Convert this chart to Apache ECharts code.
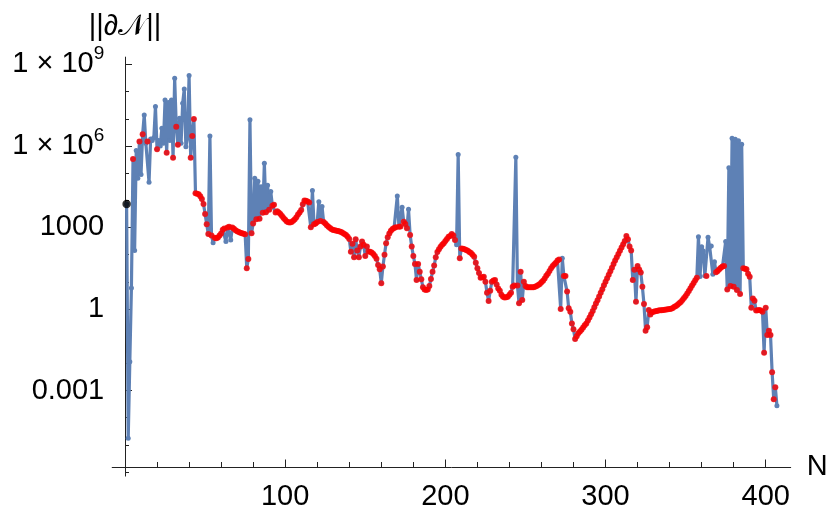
<!DOCTYPE html>
<html>
<head>
<meta charset="utf-8">
<title>norm vs N</title>
<script src="https://cdn.jsdelivr.net/npm/echarts@6.0.0/dist/echarts.min.js"></script>
<style>
  html,body{margin:0;padding:0;background:#fff;}
  #chart{width:830px;height:519px;}
</style>
</head>
<body>
<div id="chart"></div>
<script>
  // log10 ||dN|| for N = 1, 2, 3 ... 407
  var logNorm = [
    3.86,-4.76,-1.94,0.77,5.52,2.15,5.83,4.81,6.16,4.95,
    6.43,7.14,6.10,6.16,4.66,6.26,6.20,6.30,7.45,5.88,
    6.20,6.00,6.65,6.10,7.69,5.75,7.60,6.20,7.69,5.57,
    8.49,6.71,6.04,7.02,6.10,7.57,8.10,5.97,6.30,8.59,
    5.57,6.37,6.99,4.26,4.24,4.22,4.15,4.05,3.86,3.50,
    3.12,2.76,6.37,2.70,2.44,2.62,2.60,2.63,2.70,2.78,
    2.92,2.96,2.48,3.00,3.03,2.54,3.00,2.95,2.90,2.86,
    2.83,2.81,2.79,2.77,2.75,1.50,1.84,6.96,2.79,3.15,
    4.81,3.30,4.70,3.32,4.50,3.54,5.36,3.56,4.55,3.65,
    4.32,3.80,3.84,3.55,3.60,3.55,3.50,3.42,3.35,3.28,
    3.22,3.19,3.18,3.20,3.25,3.30,3.38,3.48,3.55,3.64,
    3.85,3.99,3.98,3.96,3.92,3.01,4.36,3.12,3.15,3.20,
    3.95,3.24,3.77,3.20,3.15,3.08,3.03,2.98,2.93,2.91,
    2.90,2.88,2.87,2.85,2.83,2.80,2.76,2.72,2.66,2.58,
    2.11,2.40,1.90,2.57,2.15,1.90,2.30,2.48,2.36,1.95,
    2.30,2.12,2.11,2.08,2.02,1.95,1.85,1.62,1.46,0.95,
    1.56,2.00,2.42,2.64,2.78,2.88,2.94,2.98,3.01,4.16,
    3.03,3.04,3.74,3.21,3.13,2.97,3.67,2.72,2.30,1.95,
    1.66,1.07,1.66,1.37,1.09,0.80,0.72,0.70,0.72,0.85,
    1.10,1.37,1.60,1.90,2.10,2.20,2.29,2.36,2.42,2.50,
    2.58,2.66,2.69,2.76,2.70,2.54,2.36,5.69,1.87,2.23,
    2.22,2.20,2.17,2.14,2.10,2.06,2.00,1.92,1.70,1.50,
    1.32,1.15,1.17,1.19,1.00,0.60,0.29,0.67,1.00,1.05,
    1.07,0.90,0.75,0.67,0.52,0.45,0.42,0.43,0.45,0.52,
    0.60,0.82,0.86,5.58,0.86,0.21,1.37,0.33,1.00,0.85,
    0.80,0.80,0.80,0.80,0.80,0.82,0.85,0.88,0.92,0.98,
    1.04,1.12,1.22,1.30,1.40,1.50,1.58,1.65,1.70,1.78,
    1.82,0.00,1.87,1.21,1.21,0.64,0.03,-0.10,-0.53,-0.75,
    -1.10,-1.00,-0.89,-0.83,-0.76,-0.68,-0.60,-0.53,-0.42,-0.31,
    -0.19,-0.07,0.06,0.20,0.32,0.46,0.60,0.73,0.87,1.00,
    1.13,1.26,1.39,1.52,1.66,1.78,1.90,2.02,2.14,2.26,
    2.38,2.50,2.69,2.57,2.30,2.15,1.07,1.44,0.27,1.58,
    1.45,1.34,0.82,0.18,-0.80,-0.67,-0.04,-0.20,-0.12,-0.10,
    -0.08,-0.07,-0.06,-0.05,-0.05,-0.04,-0.03,-0.02,-0.01,0.00,
    0.01,0.04,0.08,0.11,0.16,0.21,0.26,0.33,0.40,0.48,
    0.57,0.66,0.76,0.86,0.96,1.06,1.15,2.66,1.20,2.29,
    2.13,1.22,1.21,2.64,2.29,2.32,1.28,1.74,1.35,1.40,
    1.46,1.52,1.56,1.58,2.48,0.72,5.20,0.85,6.28,0.82,
    6.25,0.70,6.19,0.55,6.06,1.50,1.48,1.46,1.30,1.19,
    0.05,0.39,0.30,-0.06,-0.05,-0.04,-0.06,-0.10,-1.61,0.05,
    -0.96,-0.80,-0.96,-2.33,-3.32,-2.88,-3.56
  ];
  // N that only carry the plain blue marker (the spikes)
  var blueOnlyN = [2,3,4,6,7,8,10,12,13,15,16,17,18,19,21,22,23,24,25,27,28,29,31,
    34,35,36,37,38,39,40,53,55,63,66,78,81,83,85,87,89,91,117,121,123,170,173,177,
    207,208,244,273,358,359,360,361,362,364,365,366,367,368,375,377,379,381,383,385,407];
  var blackN = [1];

  var xMinorTicks = [0,20,40,60,80,100,120,140,160,180,200,220,240,260,280,300,320,340,360,380,400];
  var xMajorTicks = [100,200,300,400];
  var yMinorTicks = [-6,-5,-4,-3,-2,-1,0,1,2,3,4,5,6,7,8,9];
  var yMajorTicks = [-3,0,3,6,9];
  var yTickLabels = ['0.001','1','1000','1 × 10^6','1 × 10^9'];

  var font = "'Liberation Sans', Arial, sans-serif";
  var axisColor = '#222';

  var lineData = [], redData = [], blackData = [];
  for (var i = 0; i < logNorm.length; i++) {
    var n = i + 1;
    lineData.push([n, logNorm[i]]);
    if (blackN.indexOf(n) >= 0) blackData.push([n, logNorm[i]]);
    else if (blueOnlyN.indexOf(n) < 0) redData.push([n, logNorm[i]]);
  }

  var chart = echarts.init(document.getElementById('chart'));
  var xBase = {
    type: 'value', position: 'bottom', min: -8, max: 415.6, offset: -9.1,
    splitLine: {show: false}
  };
  var yBase = {
    type: 'value', position: 'left', min: -6.15, max: 9.27,
    splitLine: {show: false}
  };
  var option = {
    animation: false,
    grid: {left: 112.2, right: 39.3, top: 57.1, bottom: 42.9, containLabel: false, outerBoundsMode: 'none'},
    xAxis: [
      Object.assign({}, xBase, {
        name: 'N', nameLocation: 'end', nameGap: 16,
        nameTextStyle: {fontSize: 29, color: '#000', fontFamily: font},
        axisLine: {onZero: false, lineStyle: {color: axisColor, width: 1}},
        axisTick: {inside: true, length: 5, customValues: xMinorTicks, lineStyle: {color: axisColor}},
        axisLabel: {customValues: xMajorTicks, margin: 15, fontSize: 29, color: '#000', fontFamily: font}
      }),
      Object.assign({}, xBase, {
        axisLine: {show: false, onZero: false},
        axisTick: {inside: true, length: 7.5, customValues: xMajorTicks, lineStyle: {color: axisColor}},
        axisLabel: {show: false}
      })
    ],
    yAxis: [
      Object.assign({}, yBase, {
        name: '||∂𝒩||', nameLocation: 'end', nameGap: 16,
        nameTextStyle: {fontSize: 29, color: '#000', fontFamily: font},
        axisLine: {onZero: true, lineStyle: {color: axisColor, width: 1}},
        axisTick: {inside: true, length: 4, customValues: yMinorTicks, lineStyle: {color: axisColor}},
        axisLabel: {
          customValues: yMajorTicks, margin: 8,
          formatter: function (v) {
            var s = yTickLabels[yMajorTicks.indexOf(v)] || '';
            var p = s.split('^');
            return p.length > 1 ? '{b|' + p[0] + '}{s|' + p[1] + '}' : '{b|' + s + '}';
          },
          rich: {
            b: {fontSize: 29, lineHeight: 40, verticalAlign: 'middle', color: '#000', fontFamily: font},
            s: {fontSize: 19, lineHeight: 19, verticalAlign: 'top', color: '#000', fontFamily: font}
          }
        }
      }),
      Object.assign({}, yBase, {
        axisLine: {show: false, onZero: true},
        axisTick: {inside: true, length: 7, customValues: yMajorTicks, lineStyle: {color: axisColor}},
        axisLabel: {show: false}
      })
    ],
    series: [
      {
        type: 'line', data: lineData, silent: true, z: 2,
        showAllSymbol: true, symbol: 'circle', symbolSize: 5,
        lineStyle: {color: '#5E81B5', width: 3.2},
        itemStyle: {color: '#5E81B5'}
      },
      {
        type: 'scatter', data: redData, silent: true, z: 5,
        symbol: 'circle', symbolSize: 6,
        itemStyle: {color: '#FF0000'}
      },
      {
        type: 'scatter', data: blackData, silent: true, z: 6,
        symbol: 'circle', symbolSize: 8.5,
        itemStyle: {color: '#000'}
      }
    ]
  };
  chart.setOption(option);
</script>
</body>
</html>
